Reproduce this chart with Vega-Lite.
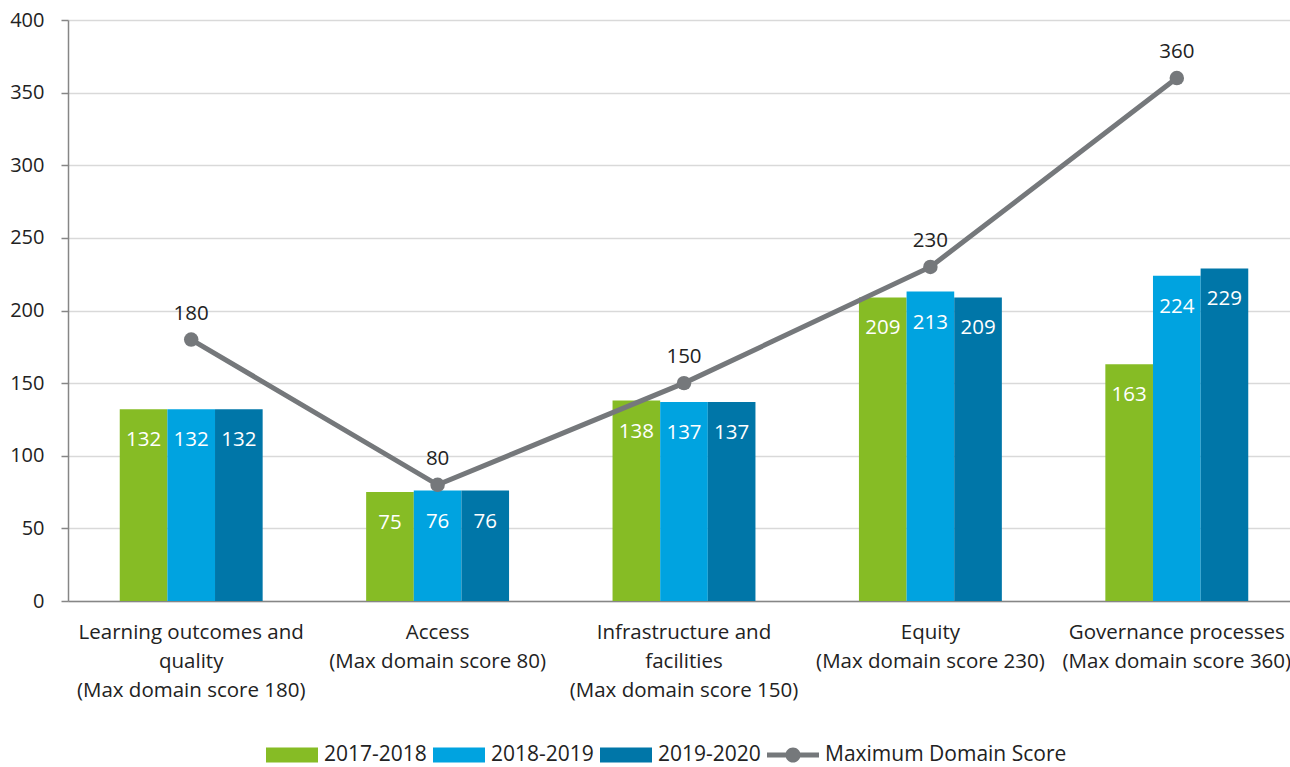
{
  "$schema": "https://vega.github.io/schema/vega-lite/v6.json",
  "width": 1232,
  "height": 581,
  "autosize": {"type": "none"},
  "padding": {"left": 68, "top": 20, "right": 0, "bottom": 166},
  "background": "white",
  "config": {"view": {"stroke": null}, "font": "Open Sans"},
  "datasets": {
    "bars": [
      {"domain": "Learning outcomes and|quality|(Max domain score 180)", "year": "2017-2018", "score": 132},
      {"domain": "Learning outcomes and|quality|(Max domain score 180)", "year": "2018-2019", "score": 132},
      {"domain": "Learning outcomes and|quality|(Max domain score 180)", "year": "2019-2020", "score": 132},
      {"domain": "Access|(Max domain score 80)", "year": "2017-2018", "score": 75},
      {"domain": "Access|(Max domain score 80)", "year": "2018-2019", "score": 76},
      {"domain": "Access|(Max domain score 80)", "year": "2019-2020", "score": 76},
      {"domain": "Infrastructure and|facilities|(Max domain score 150)", "year": "2017-2018", "score": 138},
      {"domain": "Infrastructure and|facilities|(Max domain score 150)", "year": "2018-2019", "score": 137},
      {"domain": "Infrastructure and|facilities|(Max domain score 150)", "year": "2019-2020", "score": 137},
      {"domain": "Equity|(Max domain score 230)", "year": "2017-2018", "score": 209},
      {"domain": "Equity|(Max domain score 230)", "year": "2018-2019", "score": 213},
      {"domain": "Equity|(Max domain score 230)", "year": "2019-2020", "score": 209},
      {"domain": "Governance processes|(Max domain score 360)", "year": "2017-2018", "score": 163},
      {"domain": "Governance processes|(Max domain score 360)", "year": "2018-2019", "score": 224},
      {"domain": "Governance processes|(Max domain score 360)", "year": "2019-2020", "score": 229}
    ],
    "max": [
      {"domain": "Learning outcomes and|quality|(Max domain score 180)", "max": 180},
      {"domain": "Access|(Max domain score 80)", "max": 80},
      {"domain": "Infrastructure and|facilities|(Max domain score 150)", "max": 150},
      {"domain": "Equity|(Max domain score 230)", "max": 230},
      {"domain": "Governance processes|(Max domain score 360)", "max": 360}
    ]
  },
  "encoding": {
    "x": {
      "field": "domain",
      "type": "nominal",
      "sort": null,
      "scale": {
        "domain": [
          "Learning outcomes and|quality|(Max domain score 180)",
          "Access|(Max domain score 80)",
          "Infrastructure and|facilities|(Max domain score 150)",
          "Equity|(Max domain score 230)",
          "Governance processes|(Max domain score 360)"
        ],
        "paddingInner": 0.42,
        "paddingOuter": 0.21
      },
      "axis": {
        "title": null,
        "labelAngle": 0,
        "labelExpr": "split(datum.label, '|')",
        "labelFontSize": 20.5,
        "labelLineHeight": 29,
        "labelColor": "#222222",
        "labelPadding": 21,
        "labelBaseline": "top",
        "labelLimit": 400,
        "labelOverlap": false,
        "labelBound": false,
        "ticks": false,
        "domainColor": "#868686",
        "domainWidth": 1.5,
        "grid": false
      }
    }
  },
  "layer": [
    {
      "data": {"name": "bars"},
      "encoding": {
        "xOffset": {"field": "year", "type": "nominal", "sort": null, "scale": {"paddingInner": 0, "paddingOuter": 0}},
        "y": {
          "field": "score",
          "type": "quantitative",
          "scale": {"domain": [0, 400], "nice": false},
          "axis": {
            "title": null,
            "values": [0, 50, 100, 150, 200, 250, 300, 350, 400],
            "labelFontSize": 20,
            "labelColor": "#222222",
            "labelPadding": 17,
            "tickSize": 7,
            "tickColor": "#868686",
            "tickWidth": 1.5,
            "domainColor": "#868686",
            "domainWidth": 1.5,
            "gridColor": "#d9d9d9",
            "gridWidth": 1.3
          }
        }
      },
      "layer": [
        {
          "mark": {"type": "bar"},
          "encoding": {
            "color": {
              "field": "year",
              "type": "nominal",
              "scale": {
                "domain": ["2017-2018", "2018-2019", "2019-2020", "Maximum Domain Score"],
                "range": ["#86bc25", "#00a3e0", "#0076a8", "#75787b"]
              },
              "legend": {
                "title": null,
                "orient": "none",
                "legendX": 198,
                "legendY": 709,
                "direction": "horizontal",
                "labelFontSize": 21,
                "labelColor": "#222222",
                "labelFont": "Open Sans",
                "labelLimit": 400,
                "symbolSize": 2704,
                "symbolStrokeWidth": 0,
                "labelOffset": 6,
                "columnPadding": 6,
                "encode": {
                  "symbols": {
                    "update": {
                      "shape": {"signal": "datum.value === 'Maximum Domain Score' ? 'M-1,-0.1H1V0.1H-1Z M0.29,0A0.29,0.29 0 1,1 -0.29,0A0.29,0.29 0 1,1 0.29,0Z' : 'M-1,-0.29H1V0.29H-1Z'"},
                      "size": {"value": 2704},
                      "fill": {"signal": "scale('color', datum.value)"},
                      "strokeWidth": {"value": 0},
                      "opacity": {"value": 1},
                      "fillOpacity": {"value": 1}
                    }
                  }
                }
              }
            }
          }
        },
        {
          "mark": {"type": "text", "baseline": "middle", "dy": 31, "color": "white", "fontSize": 20.5},
          "encoding": {"text": {"field": "score", "type": "quantitative"}}
        }
      ]
    },
    {
      "data": {"name": "max"},
      "encoding": {
        "y": {"field": "max", "type": "quantitative"}
      },
      "layer": [
        {
          "mark": {"type": "line", "strokeWidth": 5, "point": {"filled": true, "size": 210, "opacity": 1}},
          "encoding": {"color": {"datum": "Maximum Domain Score"}}
        },
        {
          "mark": {"type": "text", "baseline": "middle", "dy": -26, "color": "#222222", "fontSize": 20.5},
          "encoding": {"text": {"field": "max", "type": "quantitative"}}
        }
      ]
    }
  ]
}
